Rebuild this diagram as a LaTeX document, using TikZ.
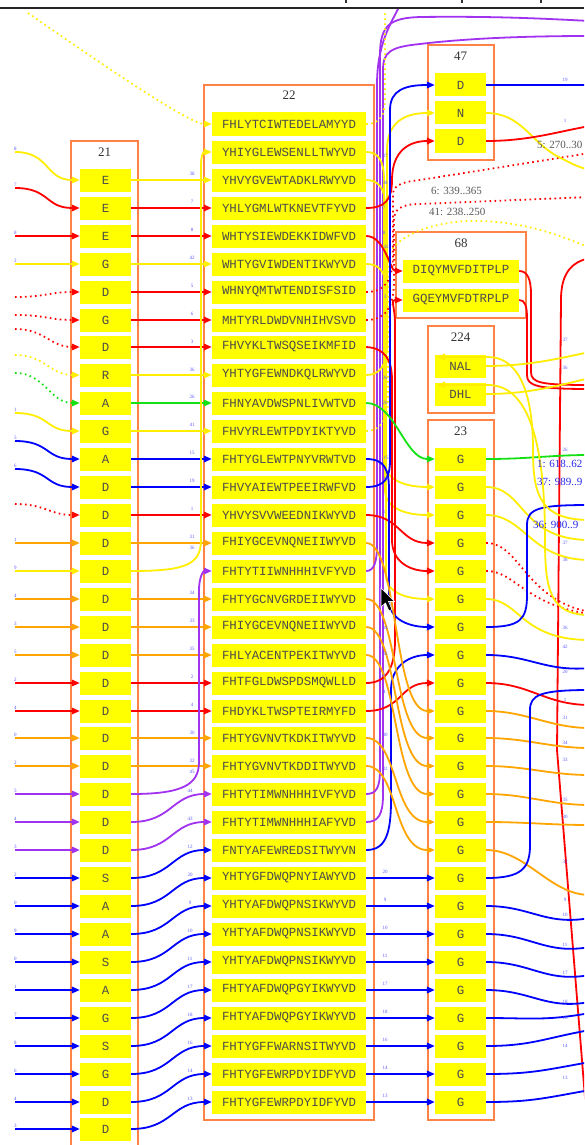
\documentclass[tikz,border=0pt]{standalone}
\usepackage{fontspec}
\usetikzlibrary{arrows.meta,calc}
\newfontfamily\monof{Liberation Mono}
\newfontfamily\serf{Liberation Serif}
\definecolor{cy}{RGB}{255,238,0}
\definecolor{nodey}{RGB}{255,255,0}
\definecolor{cr}{RGB}{255,0,0}
\definecolor{cb}{RGB}{0,0,255}
\definecolor{cg}{RGB}{20,225,20}
\definecolor{co}{RGB}{255,165,0}
\definecolor{cp}{RGB}{160,50,240}
\definecolor{clus}{RGB}{255,130,70}
\definecolor{lab}{RGB}{90,90,255}
\definecolor{bigb}{RGB}{40,40,235}
\tikzset{
  res/.style={fill=nodey, minimum width=51pt, minimum height=23pt, inner sep=0pt, font=\monof\fontsize{12.4}{13}\selectfont, text=black!70},
  seqn/.style={res, minimum width=154pt},
  clusbox/.style={draw=clus, line width=1.4pt},
  ctitle/.style={font=\serf\fontsize{13}{13}\selectfont, text=black!80},
  lin/.style={line width=1.8pt},
  arr/.style={lin, -{Triangle[length=8pt,width=6.5pt]}},
  dotl/.style={dash pattern=on 1.6pt off 3.4pt},
  lbl/.style={font=\serf\fontsize{5}{5}\selectfont, text=lab, inner sep=0pt},
  biglab/.style={font=\serf\fontsize{11}{11}\selectfont, inner sep=0pt, anchor=west},
}
\begin{document}
\begin{tikzpicture}[x=1pt,y=-1pt]
\useasboundingbox (0,0) rectangle (584,1145);
\clip (0,0) rectangle (584,1145);
\fill[white] (0,0) rectangle (584,1145);

% ---------------- clusters
\draw[clusbox] (71,141) rectangle (138,1165);
\node[ctitle] (t21) at (104.5,152) {21};
\draw[clusbox] (204,85) rectangle (374,1120);
\node[ctitle] (t22) at (289,95) {22};
\draw[clusbox] (428,45) rectangle (494,160);
\node[ctitle] (t47) at (460.5,56) {47};
\draw[clusbox] (396,232) rectangle (526,318);
\node[ctitle] (t68) at (461,243) {68};
\draw[clusbox] (428,326) rectangle (494,413);
\node[ctitle] (t224) at (460.5,337) {224};
\draw[clusbox] (428,420) rectangle (494,1120);
\node[ctitle] (t23) at (460.5,431) {23};

% ---------------- nodes
\foreach \r/\t in {2/E,3/E,4/E,5/G,6/D,7/G,8/D,9/R,10/A,11/G,12/A,13/D,14/D,15/D,16/D,17/D,18/D,19/D,20/D,21/D,22/D,23/D,24/D,25/D,26/D,27/S,28/A,29/A,30/S,31/A,32/G,33/S,34/G,35/D,36/D}
  \node[res] (a\r) at (105.5,{round(124+27.93*\r)}) {\t};
\foreach \r/\t in {0/FHLYTCIWTEDELAMYYD,1/YHIYGLEWSENLLTWYVD,2/YHVYGVEWTADKLRWYVD,3/YHLYGMLWTKNEVTFYVD,4/WHTYSIEWDEKKIDWFVD,5/WHTYGVIWDENTIKWYVD,6/WHNYQMTWTENDISFSID,7/MHTYRLDWDVNHIHVSVD,8/FHVYKLTWSQSEIKMFID,9/YHTYGFEWNDKQLRWYVD,10/FHNYAVDWSPNLIVWTVD,11/FHVYRLEWTPDYIKTYVD,12/FHTYGLEWTPNYVRWTVD,13/FHVYAIEWTPEEIRWFVD,14/YHVYSVVWEEDNIKWYVD,15/FHIYGCEVNQNEIIWYVD,16/FHTYTIIWNHHHIVFYVD,17/FHTYGCNVGRDEIIWYVD,18/FHIYGCEVNQNEIIWYVD,19/FHLYACENTPEKITWYVD,20/FHTFGLDWSPDSMQWLLD,21/FHDYKLTWSPTEIRMYFD,22/FHTYGVNVTKDKITWYVD,23/FHTYGVNVTKDDITWYVD,24/FHTYTIMWNHHHIVFYVD,25/FHTYTIMWNHHHIAFYVD,26/FNTYAFEWREDSITWYVN,27/YHTYGFDWQPNYIAWYVD,28/YHTYAFDWQPNSIKWYVD,29/YHTYAFDWQPNSIKWYVD,30/YHTYAFDWQPNSIKWYVD,31/FHTYAFDWQPGYIKWYVD,32/FHTYAFDWQPGYIKWYVD,33/FHTYGFFWARNSITWYVD,34/FHTYGFEWRPDYIDFYVD,35/FHTYGFEWRPDYIDFYVD}
  \node[seqn] (b\r) at (289,{round(124+27.93*\r)}) {\t};
\foreach \r in {12,...,35}
  \node[res] (g\r) at (460.5,{round(124+27.93*\r)}) {G};
\node[res] (k1) at (460.5,85) {D};
\node[res] (k2) at (460.5,113) {N};
\node[res] (k3) at (460.5,141) {D};
\node[res, minimum width=116pt] (m1) at (461,271) {DIQYMVFDITPLP};
\node[res, minimum width=116pt] (m2) at (461,300) {GQEYMVFDTRPLP};
\node[res] (n1) at (460.5,366) {NAL};
\node[res] (n2) at (460.5,394) {DHL};

% ---------------- cluster 21 -> cluster 22 (straight)
\draw[arr,cy] (a2.east) -- (b2.west);
\draw[arr,cr] (a3.east) -- (b3.west);
\draw[arr,cr] (a4.east) -- (b4.west);
\draw[arr,cy] (a5.east) -- (b5.west);
\draw[arr,cr] (a6.east) -- (b6.west);
\draw[arr,cr] (a7.east) -- (b7.west);
\draw[arr,cr] (a8.east) -- (b8.west);
\draw[arr,cy] (a9.east) -- (b9.west);
\draw[arr,cg] (a10.east) -- (b10.west);
\draw[arr,cy] (a11.east) -- (b11.west);
\draw[arr,cb] (a12.east) -- (b12.west);
\draw[arr,cb] (a13.east) -- (b13.west);
\draw[arr,cr] (a14.east) -- (b14.west);
\draw[arr,co] (a15.east) -- (b15.west);
\draw[arr,co] (a17.east) -- (b17.west);
\draw[arr,co] (a18.east) -- (b18.west);
\draw[arr,co] (a19.east) -- (b19.west);
\draw[arr,cr] (a20.east) -- (b20.west);
\draw[arr,cr] (a21.east) -- (b21.west);
\draw[arr,co] (a22.east) -- (b22.west);
\draw[arr,co] (a23.east) -- (b23.west);
\foreach \r/\l in {2/38, 3/7, 4/8, 5/42, 6/5, 7/6, 8/3, 9/36, 10/26, 11/41, 12/15, 13/19, 14/1, 15/31, 17/34, 18/33, 19/35, 20/2, 21/4, 22/30, 23/32}
  \node[lbl] at (192,{124+27.93*\r-6}) {\l};

% ---------------- edges entering cluster 21
\foreach \r/\c/\ys/\l in {2/cy/152/8, 3/cr/188/7, 4/cr/236/8, 5/cy/264/2, 11/cy/413/1, 12/cb/441/5, 13/cb/469/6, 15/co/543/1, 16/cy/571/9, 17/co/599/4, 18/co/627/3, 19/co/655/5, 20/cr/683/2, 21/cr/711/4, 22/co/738/0, 23/co/766/2, 24/cp/794/5, 25/cp/822/4, 26/cp/850/3, 27/cb/878/2, 28/cb/906/0, 29/cb/934/9, 30/cb/962/0, 31/cb/990/1, 32/cb/1018/7, 33/cb/1046/8, 34/cb/1074/6, 35/cb/1102/4, 36/cb/1129/3}
{
  \coordinate (L\r) at (15,\ys);
  \draw[arr,color=\c] (L\r) .. controls (50,\ys) and (45,{round(124+27.93*\r)}) .. (a\r.west);
  \node[lbl,anchor=south west] at (14,\ys-1.5) {\l};
}
\foreach \r/\c/\ys in {6/cr/297, 7/cr/315, 8/cr/329, 9/cy/355, 10/cg/373, 14/cr/504}
{
  \coordinate (L\r) at (15,\ys);
  \draw[arr,dotl,color=\c] (L\r) .. controls (45,\ys) and (50,{round(124+27.93*\r)}) .. (a\r.west);
}

% ---------------- cluster 21 -> cluster 22 (curved)
\foreach \r/\c/\l in {25/cp/44, 26/cp/43, 27/cb/12, 28/cb/20, 29/cb/9, 30/cb/10, 31/cb/11, 32/cb/17, 33/cb/18, 34/cb/16, 35/cb/14, 36/cb/13}
{
  \pgfmathtruncatemacro\q{\r-1}
  \draw[arr,color=\c] (a\r.east) .. controls (172,{round(124+27.93*\r)}) and (172,{round(124+27.93*\q)}) .. (b\q.west);
  \node[lbl] at (190,{124+27.93*\q-3}) {\l};
}
\draw[arr,cy] (a16.east) .. controls (185,571) and (201,565) .. (201,540) -- (201,165) .. controls (201,156) and (203,152) .. (b1.west);
\node[lbl] at (192,548) {36};
\coordinate (T0) at (28,13);
\draw[arr,cy,dotl] (T0) .. controls (110,70) and (190,124) .. (b0.west);
\draw[arr,cp] (a24.east) .. controls (182,794) and (199,785) .. (199,762) -- (199,590) .. controls (199,578) and (203,571) .. (b16.west);
\node[lbl] at (192,772) {45};

% ---------------- cluster 22 -> right
% purple bundle
\draw[lin,cp] (b16.east) .. controls (374,571) and (377,562) .. (377,545) -- (377,85) .. controls (377,45) and (390,25) .. (398,9);
\draw[lin,cp] (b24.east) .. controls (376,794) and (380,788) .. (380,770) -- (380,55) .. controls (380,25) and (390,18) .. (420,17) .. controls (500,16) and (550,19) .. (590,21);
\draw[lin,cp] (b25.east) .. controls (378,822) and (383,815) .. (383,795) -- (383,70) .. controls (383,52) and (390,47) .. (420,44) .. controls (470,38) and (530,36) .. (590,36);
% yellow
\draw[lin,cy,dotl] (b0.east) .. controls (380,124) and (385,115) .. (385,100) -- (385,10);
\draw[arr,cy] (b1.east) .. controls (378,152) and (384,160) .. (384,180) -- (384,460) .. controls (384,480) and (405,487) .. (g13.west);
\draw[arr,cy] (b2.east) .. controls (378,180) and (385,188) .. (385,205) -- (385,490) .. controls (385,508) and (405,515) .. (g14.west);
\draw[arr,cy] (b5.east) .. controls (378,264) and (386,270) .. (386,290) -- (386,575) .. controls (386,592) and (405,599) .. (g17.west);
\draw[arr,cy] (b9.east) .. controls (380,375) and (387,365) .. (387,345) -- (387,150) .. controls (387,122) and (405,113) .. (k2.west);
\draw[lin,cy,dotl] (b11.east) .. controls (380,431) and (388,420) .. (388,400) -- (388,262) .. controls (388,238) and (430,222) .. (470,221) .. controls (520,220) and (560,235) .. (590,248);
% red
\draw[arr,cr] (b3.east) .. controls (385,208) and (392,200) .. (392,180) .. controls (392,150) and (410,141) .. (k3.west);
\draw[arr,cr] (b4.east) .. controls (385,236) and (390,271) .. (m1.west);
\draw[lin,cr,dotl] (b6.east) .. controls (385,292) and (393,280) .. (393,255) -- (393,195) .. controls (393,186) and (400,182) .. (420,180) -- (590,153);
\draw[lin,cr,dotl] (b7.east) .. controls (385,320) and (394,308) .. (394,280) -- (394,220) .. controls (394,210) and (400,204) .. (420,204) -- (590,197);
\draw[arr,cr] (b8.east) .. controls (385,348) and (392,360) .. (392,380) -- (392,540) .. controls (392,562) and (410,571) .. (g16.west);
\draw[arr,cr] (b14.east) .. controls (400,515) and (400,543) .. (g15.west);
\draw[arr,cr] (b20.east) .. controls (385,683) and (395,670) .. (395,640) -- (395,325) .. controls (395,305) and (390,300) .. (m2.west);
\draw[arr,cr] (b21.east) .. controls (402,711) and (400,683) .. (g20.west);
% blue
\draw[arr,cb] (b12.east) .. controls (385,459) and (389,470) .. (389,490) -- (389,600) .. controls (389,620) and (410,627) .. (g18.west);
\draw[arr,cb] (b13.east) .. controls (385,487) and (390,478) .. (390,460) -- (390,110) .. controls (390,90) and (405,85) .. (k1.west);
\draw[arr,cb] (b26.east) .. controls (385,850) and (391,835) .. (391,800) -- (391,690) .. controls (391,665) and (410,655) .. (g19.west);
\foreach \r/\l in {27/20,28/9,29/10,30/11,31/17,32/18,33/16,34/14,35/13}
{
  \draw[arr,cb] (b\r.east) -- (g\r.west);
  \node[lbl] at (385,{124+27.93*\r-6}) {\l};
}
% green
\draw[arr,cg] (b10.east) .. controls (395,403) and (405,459) .. (g12.west);
% orange
\foreach \s/\t in {15/21,17/22,18/23,19/24,22/25,23/26}
  \draw[arr,co] (b\s.east) .. controls ($(b\s.east)+(32,0)$) and ($(g\t.west)+(-42,0)$) .. (g\t.west);

% labels right of cluster 22
\foreach \x/\y/\l in {385/156/37, 385/183/38, 384/208/7, 384/233/8, 386/247/42, 385/297/3, 385/378/36, 385/403/26, 386/458/15, 386/479/19, 384/512/1, 385/628/34, 385/654/35, 384/675/2, 384/692/4, 385/735/30, 385/769/32}
  \node[lbl] at (\x,\y) {\l};

% ---------------- right side
\draw[lin,cb] (k1.east) -- (590,85);
\draw[lin,cy] (k2.east) .. controls (520,113) and (530,140) .. (555,155) .. controls (570,163) and (580,168) .. (590,170);
\draw[lin,cr] (k3.east) .. controls (530,141) and (560,131) .. (590,126);
\draw[lin,cr] (m1.east) .. controls (528,271) and (531,280) .. (531,295) -- (531,372) .. controls (531,383) and (541,385) .. (590,385);
\draw[lin,cr] (m2.east) .. controls (525,300) and (527,306) .. (527,318) -- (527,375) .. controls (527,386) and (537,389) .. (590,389);
\draw[lin,cr] (590,258) .. controls (570,262) and (561,275) .. (561,300) -- (557,750) -- (586,1110);
\draw[lin,cy] (n1.east) .. controls (530,366) and (560,358) .. (590,352);
\draw[lin,cy] (n2.east) .. controls (530,394) and (560,385) .. (590,378);
\draw[lin,cg] (g12.east) .. controls (530,459) and (550,455) .. (590,455);
\draw[lin,cy] (g13.east) .. controls (525,487) and (520,540) .. (590,540);
\draw[lin,cy] (g14.east) .. controls (525,515) and (530,560) .. (590,560);
\draw[lin,cr,dotl] (g15.east) .. controls (520,543) and (525,600) .. (590,612);
\draw[lin,cr,dotl] (g16.east) .. controls (515,571) and (525,605) .. (590,614);
\draw[lin,cy] (g17.east) .. controls (520,599) and (520,640) .. (590,640);
\draw[lin,cb] (g18.east) .. controls (520,627) and (527,620) .. (527,595) -- (527,525) .. controls (527,508) and (540,505) .. (590,505);
\draw[lin,cb] (g19.east) .. controls (530,655) and (545,672) .. (590,668);
\draw[lin,cr] (g20.east) .. controls (530,683) and (545,705) .. (590,705);
\foreach \r/\ye in {21/728,22/748,23/775,24/805,25/825,26/895}
  \draw[lin,co] (g\r.east) .. controls ($(g\r.east)+(40,0)$) and (550,\ye) .. (590,\ye);
\draw[lin,cb] (g27.east) .. controls (522,878) and (530,868) .. (530,845) -- (530,710) .. controls (530,695) and (540,690) .. (590,690);
\foreach \r/\ye in {28/918,29/947,30/975,31/1002,32/1013,33/1030,34/1062,35/1090}
  \draw[lin,cb] (g\r.east) .. controls ($(g\r.east)+(45,0)$) and (545,{\ye+8}) .. (590,\ye);
% arrows into NAL / DHL from the right
\draw[arr,cy] (590,520) .. controls (540,520) and (533,495) .. (533,450) .. controls (533,385) and (515,357) .. (488,357) -- (437,357);
\draw[arr,cy] (590,615) .. controls (550,615) and (545,590) .. (545,540) .. controls (545,420) and (520,385) .. (488,385) -- (437,385);

% labels right edge
\foreach \y/\l in {80/19, 121/1, 340/37, 368/36, 450/26, 543/37, 560/38, 628/36, 647/42, 672/20, 700/1, 718/31, 743/34, 760/33, 800/35, 817/30, 862/32, 900/9, 915/10, 945/11, 973/17, 1002/18, 1018/16, 1046/14, 1078/13}
  \node[lbl] at (565,\y) {\l};

% range labels
\node[biglab, text=black!65] at (537,145) {5: 270..30};
\node[biglab, text=black!65] at (431,191) {6: 339..365};
\node[biglab, text=black!65] at (429,212) {41: 238..250};
\node[biglab, text=bigb] at (537,464) {1: 618..62};
\node[biglab, text=bigb] at (537,482) {37: 989..9};
\node[biglab, text=bigb] at (533,525) {36: 900..9};

% mouse pointer
\filldraw[fill=black, draw=white, line width=0.6pt] (381,588) -- (381,607) -- (385.5,603) -- (389,611) -- (392,609.5) -- (388.5,601.5) -- (394.5,601.5) -- cycle;

% top bar
\draw[line width=1.4pt, black!85] (0,8) -- (584,8);
\fill[black!80] (345,0) rectangle (347,3);
\fill[black!80] (461,0) rectangle (463,3);
\fill[black!80] (540,0) rectangle (542,3);
\end{tikzpicture}
\end{document}
